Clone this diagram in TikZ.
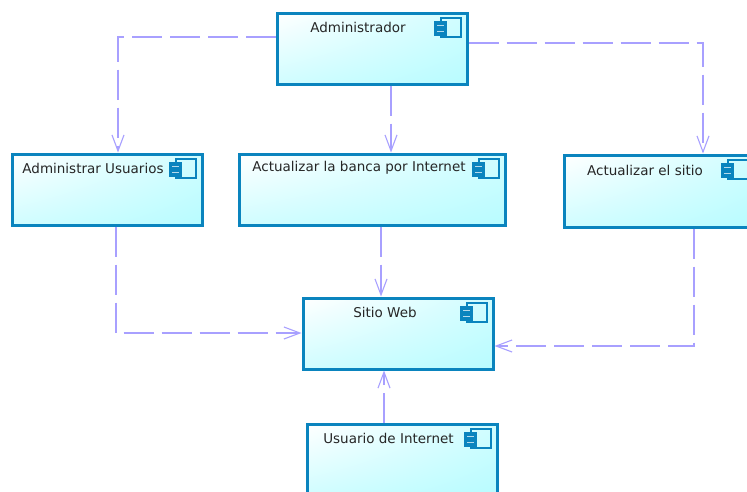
\documentclass[tikz,border=0pt]{standalone}
\usepackage{fontspec}
\setmainfont{DejaVu Sans}
\usetikzlibrary{arrows.meta,calc,shadings}
\definecolor{edgeblue}{HTML}{0A84BE}
\definecolor{depline}{HTML}{A8A0FF}
\definecolor{fillend}{HTML}{B8FCFF}
\definecolor{fillmid}{HTML}{D0FDFF}
\tikzset{
  x=1pt,y=-1pt,
  compbox/.style={draw=edgeblue,line width=3pt,outer sep=0pt,minimum width=190pt,minimum height=71pt,inner sep=0pt,
    shade,upper left=white,upper right=fillmid,lower left=fillmid,lower right=fillend},
  complabel/.style={font=\fontsize{13.5pt}{15pt}\selectfont,text=black!85,inner sep=0pt,anchor=center},
  dep/.style={draw=depline,line width=1.3pt,dash pattern=on 30pt off 8pt,shorten >=1.5pt,shorten <=1.5pt},
  deptip/.style={-{Straight Barb[length=16pt,width=12pt,line width=1.1pt]}},
  iconmain/.style={draw=edgeblue,line width=2.6pt},
  icontab/.style={fill=edgeblue},
  iconslot/.style={draw=white!70!edgeblue,line width=0.9pt}
}
\newcommand{\compicon}[1]{%
  \draw[iconmain] ($(#1.north east)+(-26,5)$) rectangle ($(#1.north east)+(-6,24)$);
  \fill[icontab] ($(#1.north east)+(-33,8)$) rectangle ($(#1.north east)+(-20,23)$);
  \draw[iconslot] ($(#1.north east)+(-30,12.5)$) -- ($(#1.north east)+(-23,12.5)$);
  \draw[iconslot] ($(#1.north east)+(-30,18.5)$) -- ($(#1.north east)+(-23,18.5)$);
}
\begin{document}
\begin{tikzpicture}
\useasboundingbox (0,0) rectangle (747,491);
\clip (0,0) rectangle (747,491);
\fill[white] (0,0) rectangle (747,491);
% boxes
\node[compbox] (admin) at (372,48.5) {};
\node[compbox] (au) at (107,189.5) {};
\node[compbox,minimum width=266pt] (abl) at (372,189.5) {};
\node[compbox,minimum height=72pt] (as) at (659,191) {};
\node[compbox] (sw) at (398,333.5) {};
\node[compbox] (ui) at (402,459.5) {};
% labels
\node[complabel] (adminl) at (358,27) {Administrador};
\node[complabel] (aul) at (93,168) {Administrar Usuarios};
\node[complabel] (abll) at (359,168) {Actualizar la banca por Internet};
\node[complabel] (asl) at (645,170) {Actualizar el sitio};
\node[complabel] (swl) at (385,312) {Sitio Web};
\node[complabel] (uil) at (388.5,438) {Usuario de Internet};
% icons
\compicon{admin}
\compicon{au}
\compicon{abl}
\compicon{as}
\compicon{sw}
\compicon{ui}
% connectors
\draw[dep,deptip] ([yshift=11.5pt]admin.west) -| ([xshift=11pt]au.north);
\draw[dep,deptip] ([xshift=19pt]admin.south) -- ([xshift=19pt]abl.north);
\draw[dep,deptip] ([yshift=5.5pt]admin.east) -| ([xshift=44pt]as.north);
\draw[dep,deptip] ([xshift=9pt]au.south) |- ([yshift=0.5pt]sw.west);
\draw[dep,deptip] ([xshift=9pt]abl.south) -- ([xshift=-17pt]sw.north);
\draw[dep,deptip] ([xshift=35pt]as.south) |- ([yshift=-12.5pt]sw.east);
\draw[dep,deptip] ([xshift=-18pt]ui.north) -- ([xshift=-14pt]sw.south);
\end{tikzpicture}
\end{document}
